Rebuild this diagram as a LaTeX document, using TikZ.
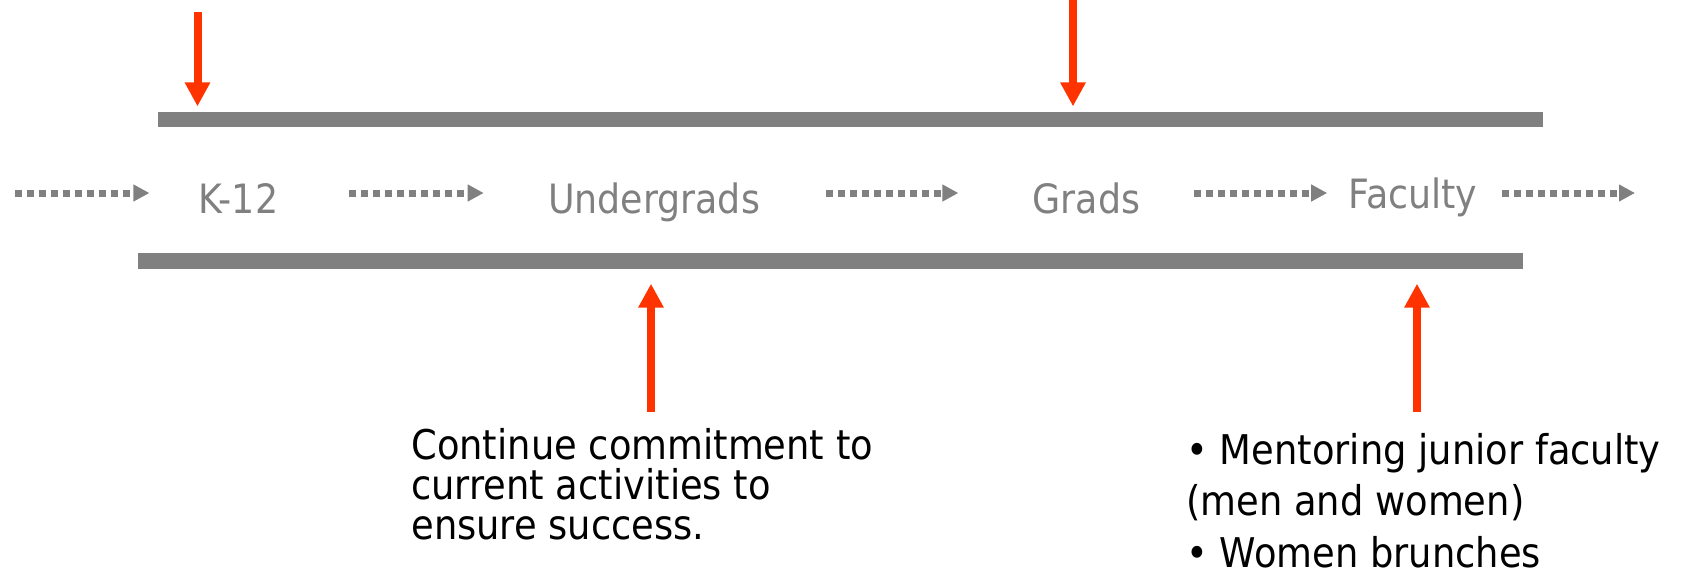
\documentclass[tikz,border=0pt]{standalone}
\usepackage{fontspec}
\setmainfont{DejaVu Sans}[FakeStretch=0.9]
\usepackage{xcolor}
\usetikzlibrary{arrows.meta}
\definecolor{pipegray}{HTML}{808080}
\definecolor{pushred}{HTML}{FF3300}

\begin{document}
\begin{tikzpicture}[
x=1cm,
y=1cm,
every node/.style={font=\fontsize{23}{27.6}\selectfont},
stagebar/.style={rectangle,fill=pipegray,inner sep=0pt,minimum width=27.70cm},
stagelbl/.style={text=pipegray,inner sep=0pt,text height=1.0cm,text depth=0.2cm},
flowdots/.style={-{Triangle[length=0.32cm,width=0.32cm]},draw=pipegray,line width=0.14cm,dash pattern=on 0.14cm off 0.10cm},
pusharr/.style={-{Triangle[length=0.48cm,width=0.48cm]},draw=pushred,line width=0.16cm},
notetext/.style={align=left,inner sep=0pt,anchor=base west}
]
\useasboundingbox (0,0) rectangle (33.62,-11.36);

\node[stagebar,minimum height=0.31cm] (topbar) at (17.01,-2.39) {};
\node[stagebar,minimum height=0.32cm] (botbar) at (16.60,-5.226) {};

\node[stagelbl] (k12) at (4.77,-3.86) {K-12};
\node[stagelbl] (ugrad) at (13.08,-3.86) {Undergrads};
\node[stagelbl] (grad) at (21.73,-3.86) {Grads};
\node[stagelbl,text depth=0.4cm] (fac) at (28.26,-3.86) {Faculty};
\coordinate (flowin) at (0.30,-3.86);
\coordinate (flowout) at (32.70,-3.86);

\draw[flowdots,shorten >=0.98cm] (flowin) -- (k12);
\draw[flowdots,shorten <=1.40cm,shorten >=1.28cm] (k12) -- (ugrad);
\draw[flowdots,shorten <=1.32cm,shorten >=1.48cm] (ugrad) -- (grad);
\draw[flowdots,shorten <=1.06cm,shorten >=0.42cm] (grad) -- (fac);
\draw[flowdots,shorten <=0.48cm] (fac) -- (flowout);

\coordinate (k12push) at (3.95,-0.24);
\coordinate (gradpush) at (21.46,0.10);
\coordinate (ugradpush) at (13.02,-8.24);
\coordinate (facpush) at (28.34,-8.24);

\draw[pusharr,shorten >=0.10cm] (k12push) -- (k12push |- topbar.north);
\draw[pusharr,shorten >=0.10cm] (gradpush) -- (gradpush |- topbar.north);
\draw[pusharr,shorten >=0.28cm] (ugradpush) -- (ugradpush |- botbar.south);
\draw[pusharr,shorten >=0.28cm] (facpush) -- (facpush |- botbar.south);

% base sits on the last line of each note
\node[notetext,font=\fontsize{23.3}{22.7}\selectfont] (keepnote) at (8.22,-10.78) {Continue commitment to\\current activities to\\ensure success.};
\node[notetext,font=\fontsize{23.3}{29.2}\selectfont] (facnote) at (23.72,-11.34) {• Mentoring junior faculty\\(men and women)\\• Women brunches};
\end{tikzpicture}
\end{document}
